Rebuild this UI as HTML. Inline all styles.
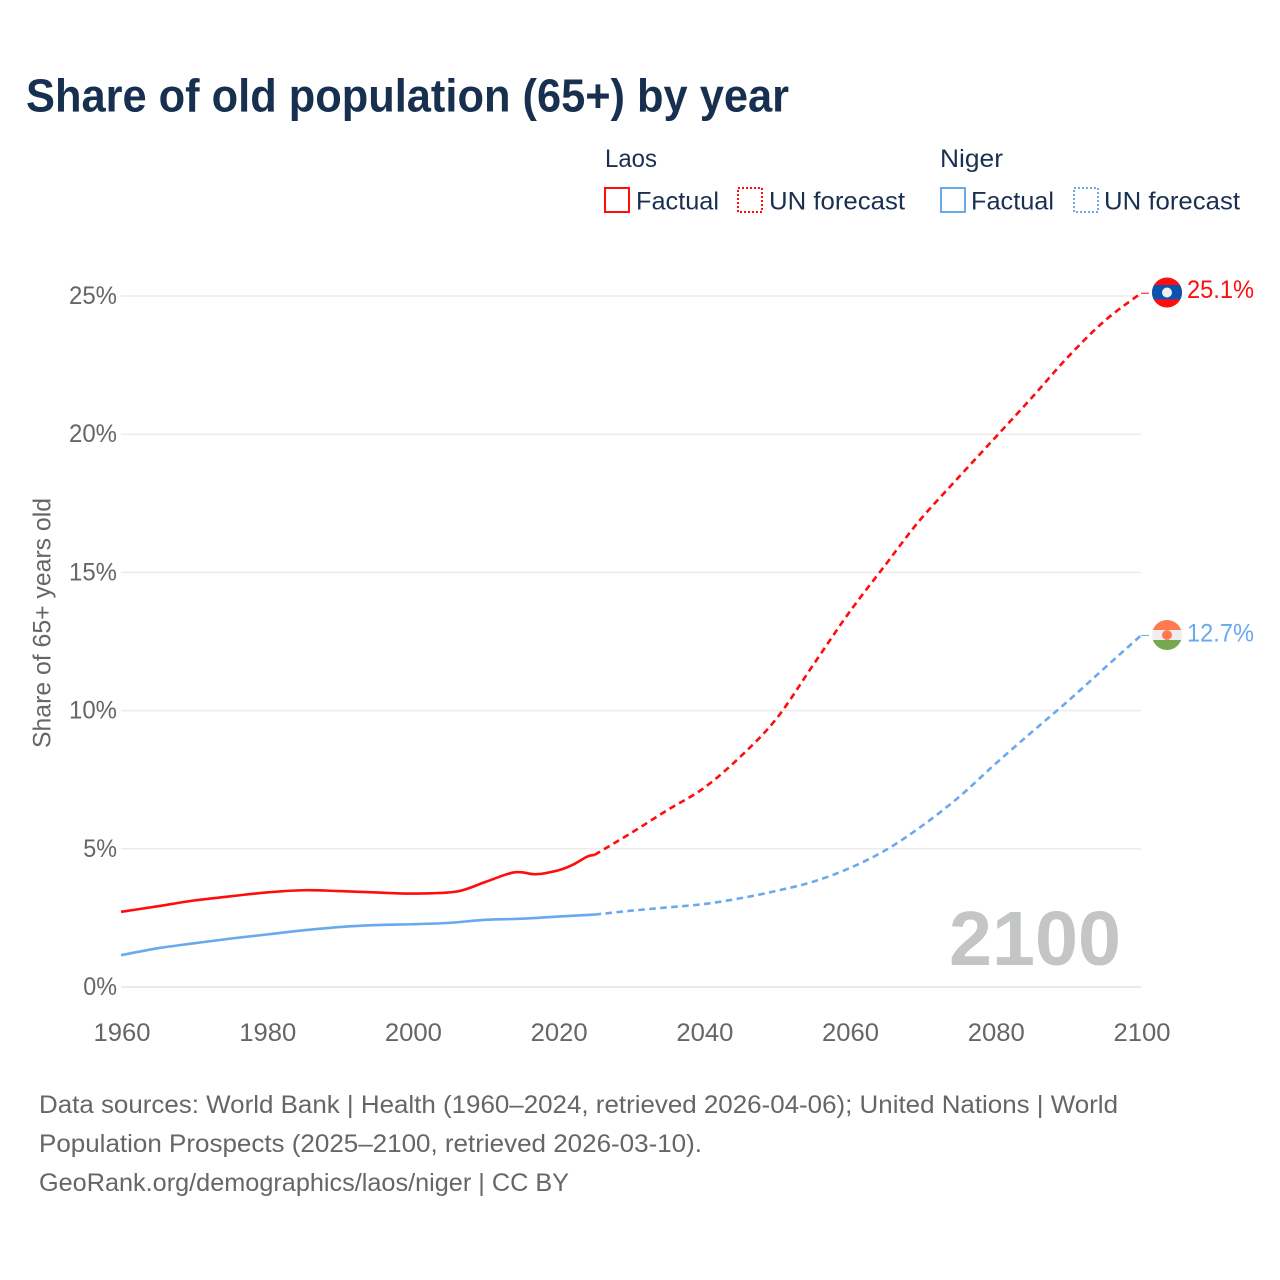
<!DOCTYPE html>
<html lang="en">
<head>
<meta charset="utf-8">
<title>Share of old population (65+) by year</title>
<style>
html,body{margin:0;padding:0;background:#fff;width:1280px;height:1280px;overflow:hidden}
svg{display:block}
text{font-family:"Liberation Sans",sans-serif}
</style>
</head>
<body>
<svg id="chart" xmlns="http://www.w3.org/2000/svg" width="1280" height="1280" viewBox="0 0 1280 1280">
  <rect width="1280" height="1280" fill="#fff"/>
  <text x="26" y="111.500" font-size="46" font-weight="700" fill="#17304f" textLength="763" lengthAdjust="spacingAndGlyphs">Share of old population (65+) by year</text>

  <g font-size="25" fill="#1a3050">
    <text x="605" y="167" textLength="52" lengthAdjust="spacingAndGlyphs">Laos</text>
    <rect x="605" y="188" width="24" height="24" fill="none" stroke="#ff0d0d" stroke-width="2"/>
    <text x="636" y="209.500" textLength="83" lengthAdjust="spacingAndGlyphs">Factual</text>
    <rect x="738" y="188" width="24" height="24" fill="none" stroke="#ff0d0d" stroke-width="2" stroke-dasharray="2 2"/>
    <text x="769" y="209.500" textLength="136" lengthAdjust="spacingAndGlyphs">UN forecast</text>
    <text x="940" y="167" textLength="63" lengthAdjust="spacingAndGlyphs">Niger</text>
    <rect x="941" y="188" width="24" height="24" fill="none" stroke="#6aa9ee" stroke-width="2"/>
    <text x="971" y="209.500" textLength="83" lengthAdjust="spacingAndGlyphs">Factual</text>
    <rect x="1074" y="188" width="24" height="24" fill="none" stroke="#6aa9ee" stroke-width="2" stroke-dasharray="2 2"/>
    <text x="1104" y="209.500" textLength="136" lengthAdjust="spacingAndGlyphs">UN forecast</text>
  </g>

  <g id="grid"></g>
  <g id="yticks" font-size="25" fill="#666" text-anchor="end"></g>
  <g id="xticks" font-size="25" fill="#666" text-anchor="middle"></g>
  <text transform="translate(50.500 623) rotate(-90)" font-size="25" fill="#666" text-anchor="middle" textLength="250" lengthAdjust="spacingAndGlyphs">Share of 65+ years old</text>

  <text x="949" y="965" font-size="77" font-weight="700" fill="#c4c6c6" textLength="172" lengthAdjust="spacingAndGlyphs">2100</text>

  <g id="series"></g>

  <defs>
    <clipPath id="laos-clip"><circle cx="1167" cy="292.500" r="15"/></clipPath>
    <clipPath id="niger-clip"><circle cx="1167" cy="635" r="15"/></clipPath>
  </defs>
  <g clip-path="url(#laos-clip)">
    <rect x="1152" y="277" width="30" height="31" fill="#ff0d0d"/>
    <rect x="1152" y="285" width="30" height="14.500" fill="#0b53b0"/>
    <circle cx="1167" cy="292.500" r="5" fill="#eee"/>
  </g>
  <g clip-path="url(#niger-clip)">
    <rect x="1152" y="620" width="30" height="10" fill="#ff7a52"/>
    <rect x="1152" y="630" width="30" height="11" fill="#eee"/>
    <rect x="1152" y="640" width="30" height="10" fill="#76a84f"/>
    <circle cx="1167" cy="635" r="5" fill="#ff7a52"/>
  </g>
  <text x="1187" y="298" font-size="25" fill="#ff0d0d" textLength="67" lengthAdjust="spacingAndGlyphs">25.1%</text>
  <text x="1187" y="641.500" font-size="25" fill="#6aa9ee" textLength="67" lengthAdjust="spacingAndGlyphs">12.7%</text>

  <g font-size="25" fill="#666">
    <text x="39" y="1113" textLength="1079" lengthAdjust="spacingAndGlyphs">Data sources: World Bank | Health (1960–2024, retrieved 2026-04-06); United Nations | World</text>
    <text x="39" y="1152" textLength="663" lengthAdjust="spacingAndGlyphs">Population Prospects (2025–2100, retrieved 2026-03-10).</text>
    <text x="39" y="1191" textLength="530" lengthAdjust="spacingAndGlyphs">GeoRank.org/demographics/laos/niger | CC BY</text>
  </g>
</svg>
<script>
const yTickValues = [0, 5, 10, 15, 20, 25];
const xTickValues = [1960, 1980, 2000, 2020, 2040, 2060, 2080, 2100];

const laosFactualYears = [1960, 1965, 1970, 1975, 1980, 1985, 1990, 1995, 2000, 2006, 2010, 2014, 2017, 2020, 2022, 2024, 2025];
const laosFactualValues = [2.72, 2.92, 3.13, 3.28, 3.42, 3.5, 3.47, 3.42, 3.38, 3.45, 3.8, 4.15, 4.08, 4.22, 4.42, 4.72, 4.78];
const laosForecastYears = [2025, 2030, 2035, 2040, 2045, 2050, 2055, 2060, 2065, 2067, 2070, 2075, 2080, 2085, 2090, 2095, 2100];
const laosForecastValues = [4.78, 5.57, 6.4, 7.2, 8.33, 9.72, 11.65, 13.57, 15.3, 16.0, 17.0, 18.45, 19.88, 21.32, 22.8, 24.1, 25.1];

const nigerFactualYears = [1960, 1965, 1970, 1975, 1980, 1985, 1990, 1995, 2000, 2005, 2010, 2015, 2020, 2025];
const nigerFactualValues = [1.15, 1.4, 1.58, 1.75, 1.9, 2.05, 2.17, 2.24, 2.27, 2.32, 2.43, 2.47, 2.55, 2.62];
const nigerForecastYears = [2025, 2030, 2035, 2040, 2045, 2050, 2055, 2060, 2065, 2070, 2075, 2080, 2085, 2090, 2095, 2100];
const nigerForecastValues = [2.62, 2.76, 2.88, 3.0, 3.21, 3.48, 3.81, 4.3, 4.96, 5.84, 6.87, 8.07, 9.22, 10.35, 11.54, 12.72];

const NS = 'http://www.w3.org/2000/svg';
const xScale = function (year) { return 121 + (year - 1960) * (1141 - 121) / 140; };
const yScale = function (value) { return 987 - value * (987 - 296) / 25; };

function pathFrom(years, values) {
  const pts = years.map(function (year, i) {
    return [xScale(year), yScale(values[i])];
  });
  let d = 'M' + pts[0][0].toFixed(2) + ' ' + pts[0][1].toFixed(2);
  for (let i = 0; i < pts.length - 1; i++) {
    const p0 = pts[Math.max(i - 1, 0)];
    const p1 = pts[i];
    const p2 = pts[i + 1];
    const p3 = pts[Math.min(i + 2, pts.length - 1)];
    const c1x = p1[0] + (p2[0] - p0[0]) / 6;
    const c1y = p1[1] + (p2[1] - p0[1]) / 6;
    const c2x = p2[0] - (p3[0] - p1[0]) / 6;
    const c2y = p2[1] - (p3[1] - p1[1]) / 6;
    d += ' C' + c1x.toFixed(2) + ' ' + c1y.toFixed(2) + ' ' + c2x.toFixed(2) + ' ' + c2y.toFixed(2) + ' ' + p2[0].toFixed(2) + ' ' + p2[1].toFixed(2);
  }
  return d;
}

const gridGroup = document.getElementById('grid');
const yTickGroup = document.getElementById('yticks');
yTickValues.forEach(function (value) {
  const line = document.createElementNS(NS, 'line');
  
  
  line.setAttribute('x1', xScale(1960));
  line.setAttribute('x2', xScale(2100));
  line.setAttribute('y1', yScale(value));
  line.setAttribute('y2', yScale(value));
  line.setAttribute('stroke', value === 0 ? '#e4e4e4' : '#ececec');
  line.setAttribute('stroke-width', '1.500');
  gridGroup.appendChild(line);

  const label = document.createElementNS(NS, 'text');
  
  
  label.setAttribute('x', 117);
  label.setAttribute('y', yScale(value) + 8);
  label.setAttribute('textLength', String(value).length * 14.25 + 19.5);
  label.setAttribute('lengthAdjust', 'spacingAndGlyphs');
  label.textContent = value + '%';
  yTickGroup.appendChild(label);
});

const xTickGroup = document.getElementById('xticks');
xTickValues.forEach(function (year) {
  const label = document.createElementNS(NS, 'text');
  
  
  label.setAttribute('x', xScale(year) + 1);
  label.setAttribute('y', 1041);
  label.setAttribute('textLength', 57);
  label.setAttribute('lengthAdjust', 'spacingAndGlyphs');
  label.textContent = year;
  xTickGroup.appendChild(label);
});

const seriesGroup = document.getElementById('series');

function addLine(el, years, values, color, dashed) {
  el.setAttribute('d', pathFrom(years, values));
  el.setAttribute('fill', 'none');
  el.setAttribute('stroke', color);
  el.setAttribute('stroke-width', '2.600');
  el.setAttribute('stroke-linejoin', 'round');
  if (dashed) {
    el.setAttribute('stroke-dasharray', '6.500 4.500');
  }
  seriesGroup.appendChild(el);
}

const nigerForecastLine = document.createElementNS(NS, 'path');


addLine(nigerForecastLine, nigerForecastYears, nigerForecastValues, '#6aa9ee', true);

const nigerFactualLine = document.createElementNS(NS, 'path');


addLine(nigerFactualLine, nigerFactualYears, nigerFactualValues, '#6aa9ee', false);

const laosForecastLine = document.createElementNS(NS, 'path');


addLine(laosForecastLine, laosForecastYears, laosForecastValues, '#ff0d0d', true);

const laosFactualLine = document.createElementNS(NS, 'path');


addLine(laosFactualLine, laosFactualYears, laosFactualValues, '#ff0d0d', false);

const laosConnector = document.createElementNS(NS, 'line');


laosConnector.setAttribute('x1', xScale(2100));
laosConnector.setAttribute('x2', xScale(2100) + 8);
laosConnector.setAttribute('y1', yScale(laosForecastValues[laosForecastValues.length - 1]));
laosConnector.setAttribute('y2', yScale(laosForecastValues[laosForecastValues.length - 1]));
laosConnector.setAttribute('stroke', '#ff0d0d');
laosConnector.setAttribute('stroke-width', '1');
seriesGroup.appendChild(laosConnector);

const nigerConnector = document.createElementNS(NS, 'line');


nigerConnector.setAttribute('x1', xScale(2100));
nigerConnector.setAttribute('x2', xScale(2100) + 8);
nigerConnector.setAttribute('y1', yScale(nigerForecastValues[nigerForecastValues.length - 1]));
nigerConnector.setAttribute('y2', yScale(nigerForecastValues[nigerForecastValues.length - 1]));
nigerConnector.setAttribute('stroke', '#6aa9ee');
nigerConnector.setAttribute('stroke-width', '1');
seriesGroup.appendChild(nigerConnector);
</script>
</body>
</html>
